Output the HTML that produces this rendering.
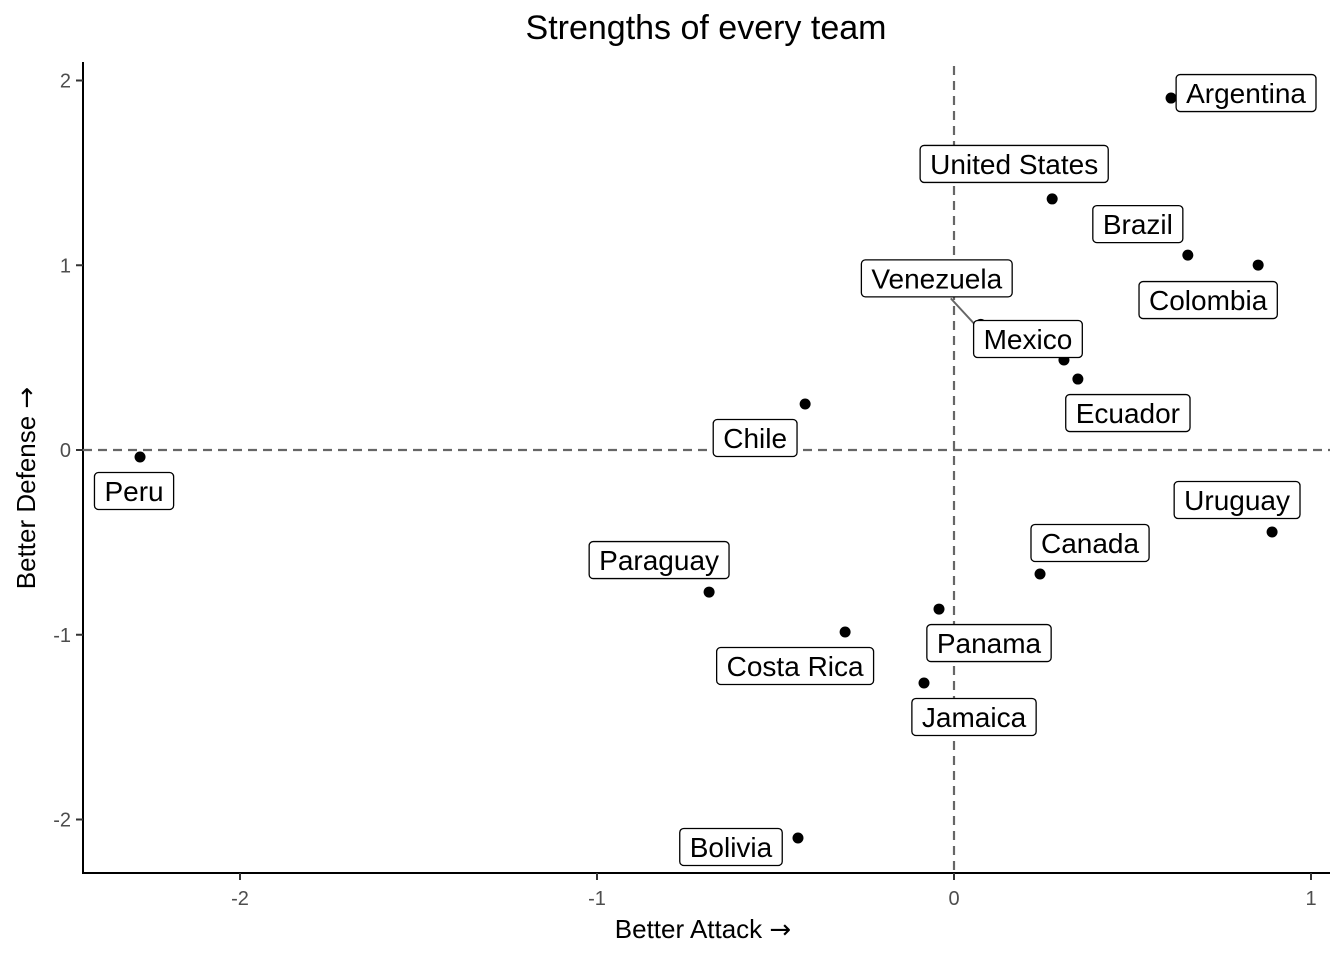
<!DOCTYPE html>
<html><head><meta charset="utf-8"><style>
body{margin:0;background:#fff;}
svg{display:block;font-family:"Liberation Sans",Arial,sans-serif;}
</style></head><body>
<svg id="chart" width="1344" height="960">
<text x="706" y="39" text-anchor="middle" font-size="34" fill="#000">Strengths of every team</text>
<text x="703" y="938" text-anchor="middle" font-size="26" fill="#000">Better Attack <tspan font-family="DejaVu Sans">→</tspan></text>
<text transform="translate(35,488) rotate(-90)" text-anchor="middle" font-size="26" fill="#000">Better Defense <tspan font-family="DejaVu Sans">→</tspan></text>
<g id="axes"></g>
<g id="marks"></g>
</svg>
<script>
const teams=["Argentina","United States","Brazil","Colombia","Venezuela","Mexico","Ecuador","Chile","Peru","Uruguay","Canada","Paraguay","Panama","Costa Rica","Jamaica","Bolivia"];
const attack=[0.608,0.275,0.655,0.852,0.075,0.308,0.347,-0.417,-2.28,0.891,0.241,-0.686,-0.042,-0.305,-0.084,-0.437];
const defense=[1.905,1.359,1.055,1.001,0.68,0.487,0.384,0.249,-0.038,-0.444,-0.671,-0.769,-0.861,-0.985,-1.261,-2.1];
const xTicks=[-2,-1,0,1];
const yTicks=[-2,-1,0,1,2];
const xTickLabels=["-2","-1","0","1"];
const yTickLabels=["-2","-1","0","1","2"];
// label offsets (px) relative to point, layout only
const labelDX=[75,-38,-50,-50,-44,-36,50,-50,-6,-35,50,-50,50,-50,50,-67];
const labelDY=[-5,-35,-31,35,-46,-21,34,34,34,-32,-31,-32,34,34,34,9];

const NS="http://www.w3.org/2000/svg";
const X=v=>954+357*v, Y=v=>450-184.75*v;
const L=83,R=1330,T=62,B=873;
function el(t,a,p){const e=document.createElementNS(NS,t);for(const k in a)e.setAttribute(k,a[k]);p.appendChild(e);return e;}
const ax=document.getElementById('axes'), mk=document.getElementById('marks');
let e;
e=el('line',{x1:L,y1:T,x2:L,y2:B+1,stroke:'#000','stroke-width':2},ax);


e=el('line',{x1:L-1,y1:B,x2:R,y2:B,stroke:'#000','stroke-width':2},ax);


xTicks.forEach((v,i)=>{
 el('line',{x1:X(v),y1:B,x2:X(v),y2:B+7,stroke:'#333','stroke-width':2},ax);
 const t=el('text',{x:X(v),y:B+32,'text-anchor':'middle','font-size':20,fill:'#4d4d4d'},ax);t.textContent=xTickLabels[i];
 
 
});
yTicks.forEach((v,i)=>{
 el('line',{x1:L-7,y1:Y(v),x2:L,y2:Y(v),stroke:'#333','stroke-width':2},ax);
 const t=el('text',{x:L-12,y:Y(v)+7,'text-anchor':'end','font-size':20,fill:'#4d4d4d'},ax);t.textContent=yTickLabels[i];
 
 
});
e=el('line',{x1:X(0),y1:T+4,x2:X(0),y2:B,stroke:'#666','stroke-width':2.2,'stroke-dasharray':'9,6'},ax);


e=el('line',{x1:L,y1:Y(0),x2:R,y2:Y(0),stroke:'#666','stroke-width':2.2,'stroke-dasharray':'9,6'},ax);



teams.forEach((n,i)=>{
 const px=X(attack[i]),py=Y(defense[i]);
 const cx=px+labelDX[i],cy=py+labelDY[i];
 if(n==="Venezuela"){el('line',{x1:cx+14,y1:cy+20,x2:px-6,y2:py,stroke:'#666','stroke-width':2},mk);}
 const c=el('circle',{cx:px,cy:py,r:5.5,fill:'#000'},mk);
 
 
});
teams.forEach((n,i)=>{
 const px=X(attack[i]),py=Y(defense[i]);
 const cx=px+labelDX[i],cy=py+labelDY[i];
 const g=el('g',{},mk);
 
 
 const r=el('rect',{rx:4,ry:4,fill:'#fff',stroke:'#000','stroke-width':1.3},g);
 const t=el('text',{x:cx,y:cy+10,'text-anchor':'middle','font-size':28,fill:'#000'},g);t.textContent=n;
 const w=t.getComputedTextLength()+20;
 r.setAttribute('x',cx-w/2);r.setAttribute('y',cy-18.5);r.setAttribute('width',w);r.setAttribute('height',37);
});
</script>
</body></html>
